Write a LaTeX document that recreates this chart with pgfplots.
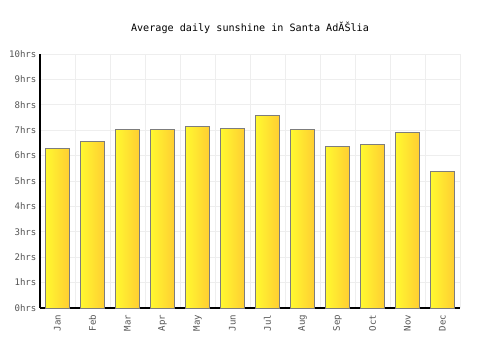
\documentclass[border=0pt]{standalone}
\usepackage{fontspec}
\setmainfont{DejaVu Sans Mono}
\usepackage{pgfplots}
\pgfplotsset{compat=1.18}
\definecolor{barL}{RGB}{255,248,48}
\definecolor{barR}{RGB}{255,206,50}
\definecolor{gridc}{RGB}{238,238,238}
\definecolor{tickc}{RGB}{85,85,85}
\definecolor{edgec}{RGB}{125,125,125}
\pgfplotsset{mybar/.style={ybar, bar width=17.5pt, bar shift=0pt, draw=edgec, line width=0.7pt, left color=barL, right color=barR}}
\begin{document}
\begin{tikzpicture}
\path[use as bounding box] (0,0) rectangle (375pt,262.5pt);
\node[font=\fontsize{7.6pt}{9pt}\selectfont, anchor=center] at (187.5pt,241.5pt) {Average daily sunshine in Santa AdĂŠlia};
\begin{axis}[
  at={(30pt,31.5pt)}, anchor=south west,
  scale only axis, width=315pt, height=190.5pt,
  xmin=-0.5, xmax=11.5, ymin=0, ymax=10,
  axis x line*=bottom, axis y line*=left,
  axis line style={black, line width=0.9pt},
  xtick={0,...,11},
  xticklabels={Jan,Feb,Mar,Apr,May,Jun,Jul,Aug,Sep,Oct,Nov,Dec},
  minor xtick={-0.5,0.5,...,11.5},
  ytick={0,...,10},
  yticklabels={0hrs,1hrs,2hrs,3hrs,4hrs,5hrs,6hrs,7hrs,8hrs,9hrs,10hrs},
  ymajorgrids, xminorgrids,
  major grid style={gridc, line width=0.6pt},
  minor grid style={gridc, line width=0.6pt},
  major tick length=0pt, minor tick length=0pt,
  tick label style={font=\fontsize{6.8pt}{8pt}\selectfont, text=tickc},
  xticklabel style={rotate=90, anchor=east, inner sep=0pt, xshift=-5pt},
  yticklabel style={anchor=east, inner sep=2.5pt},
  /pgf/number format/assume math mode=true,
  clip=false,
]
\addplot[mybar] coordinates {(0,6.29)};
\addplot[mybar] coordinates {(1,6.56)};
\addplot[mybar] coordinates {(2,7.03)};
\addplot[mybar] coordinates {(3,7.03)};
\addplot[mybar] coordinates {(4,7.15)};
\addplot[mybar] coordinates {(5,7.07)};
\addplot[mybar] coordinates {(6,7.59)};
\addplot[mybar] coordinates {(7,7.03)};
\addplot[mybar] coordinates {(8,6.37)};
\addplot[mybar] coordinates {(9,6.44)};
\addplot[mybar] coordinates {(10,6.92)};
\addplot[mybar] coordinates {(11,5.38)};
\end{axis}
\end{tikzpicture}
\end{document}
